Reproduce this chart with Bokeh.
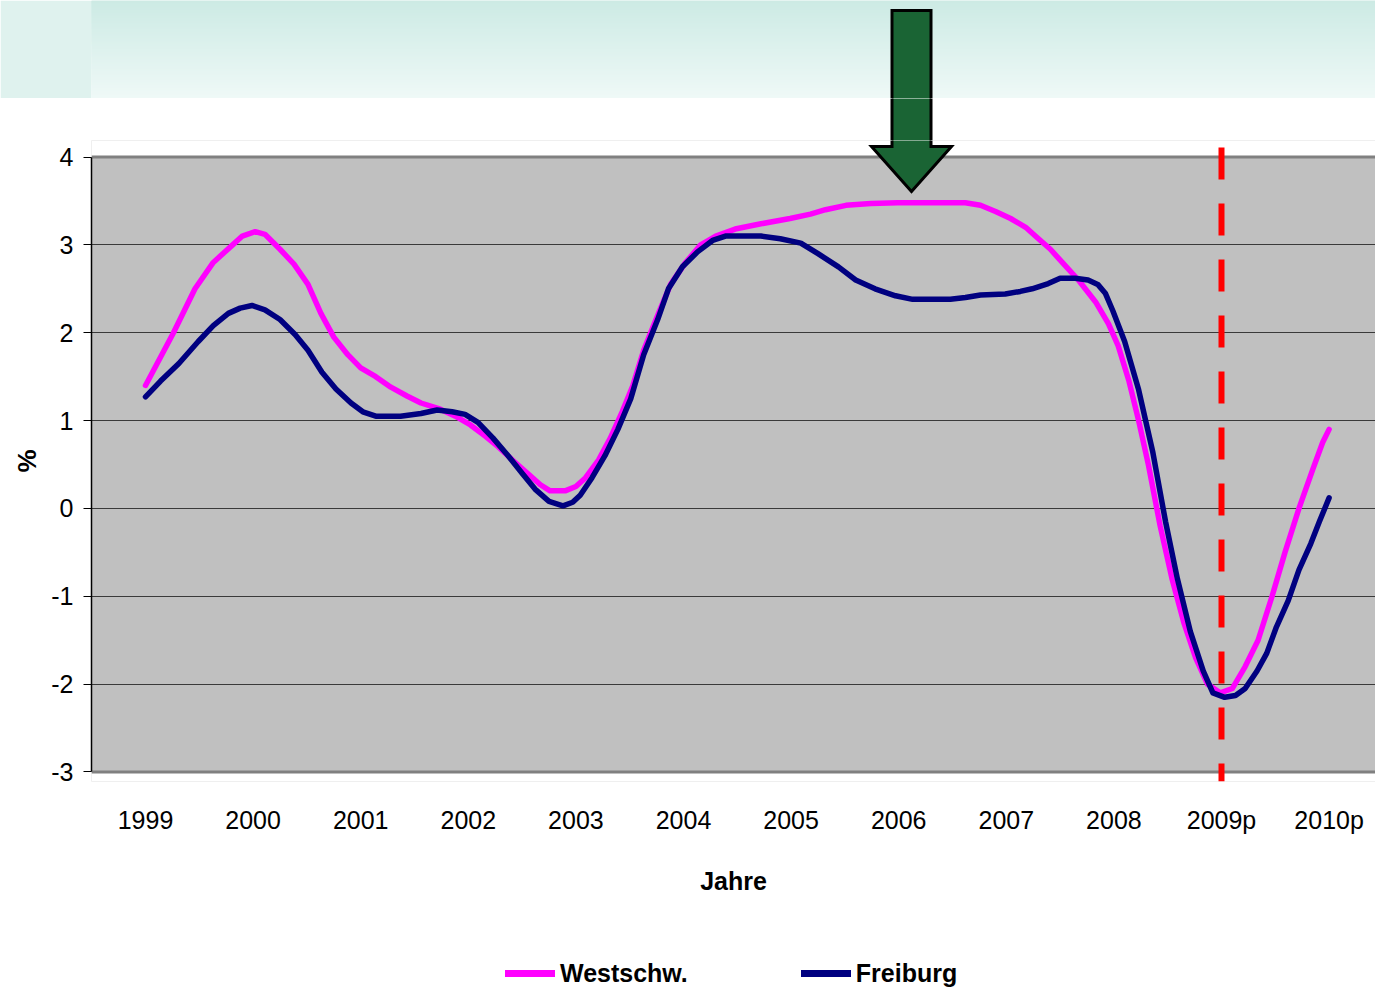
from bokeh.plotting import figure
from bokeh.layouts import column
from bokeh.models import Range1d, FixedTicker, Legend, LegendItem
from bokeh.embed import file_html
from bokeh.resources import INLINE

# ---------------- data ----------------
years = [1999, 2000, 2001, 2002, 2003, 2004, 2005, 2006, 2007, 2008, 2009, 2010]
year_labels = ["1999", "2000", "2001", "2002", "2003", "2004", "2005", "2006",
               "2007", "2008", "2009p", "2010p"]
y_ticks = [-3, -2, -1, 0, 1, 2, 3, 4]
series_names = ["Westschw.", "Freiburg"]

west_t = [1999.00, 1999.26, 1999.46, 1999.63, 1999.81, 1999.90, 2000.02, 2000.11,
          2000.25, 2000.38, 2000.51, 2000.63, 2000.75, 2000.88, 2001.00, 2001.14,
          2001.28, 2001.43, 2001.56, 2001.74, 2001.88, 2002.02, 2002.16, 2002.28,
          2002.41, 2002.55, 2002.67, 2002.76, 2002.90, 2003.00, 2003.09, 2003.21,
          2003.32, 2003.43, 2003.53, 2003.63, 2003.76, 2003.88, 2004.02, 2004.16,
          2004.30, 2004.48, 2004.72, 2004.99, 2005.18, 2005.32, 2005.51, 2005.74,
          2005.99, 2006.30, 2006.62, 2006.76, 2006.90, 2007.04, 2007.18, 2007.27,
          2007.41, 2007.52, 2007.67, 2007.83, 2007.95, 2008.04, 2008.14, 2008.23,
          2008.32, 2008.43, 2008.54, 2008.65, 2008.76, 2008.87, 2008.99, 2009.10,
          2009.22, 2009.34, 2009.47, 2009.59, 2009.72, 2009.85, 2009.94, 2010.00]
west_v = [1.40, 2.00, 2.50, 2.80, 3.00, 3.10, 3.15, 3.12,
          2.95, 2.78, 2.55, 2.22, 1.95, 1.75, 1.60, 1.50,
          1.38, 1.28, 1.20, 1.13, 1.05, 0.95, 0.82, 0.70,
          0.55, 0.40, 0.27, 0.20, 0.20, 0.25, 0.35, 0.55,
          0.80, 1.10, 1.40, 1.80, 2.20, 2.55, 2.80, 3.00,
          3.10, 3.18, 3.24, 3.30, 3.35, 3.40, 3.45, 3.47,
          3.48, 3.48, 3.48, 3.45, 3.38, 3.30, 3.20, 3.10,
          2.95, 2.80, 2.60, 2.35, 2.10, 1.85, 1.45, 1.00,
          0.50, -0.20, -0.80, -1.30, -1.70, -2.00, -2.10, -2.05,
          -1.80, -1.50, -1.00, -0.50, 0.00, 0.45, 0.75, 0.90]

frei_t = [1999.00, 1999.14, 1999.31, 1999.49, 1999.63, 1999.77, 1999.88, 1999.99,
          2000.11, 2000.25, 2000.39, 2000.51, 2000.64, 2000.77, 2000.91, 2001.02,
          2001.14, 2001.37, 2001.56, 2001.71, 2001.85, 2001.97, 2002.09, 2002.23,
          2002.37, 2002.50, 2002.62, 2002.75, 2002.88, 2002.97, 2003.04, 2003.15,
          2003.27, 2003.39, 2003.51, 2003.63, 2003.76, 2003.86, 2003.99, 2004.13,
          2004.27, 2004.39, 2004.72, 2004.90, 2005.09, 2005.25, 2005.44, 2005.60,
          2005.78, 2005.97, 2006.13, 2006.48, 2006.62, 2006.76, 2006.99, 2007.13,
          2007.24, 2007.39, 2007.50, 2007.64, 2007.76, 2007.85, 2007.92, 2007.99,
          2008.10, 2008.23, 2008.36, 2008.48, 2008.59, 2008.71, 2008.83, 2008.92,
          2009.03, 2009.13, 2009.22, 2009.33, 2009.42, 2009.51, 2009.62, 2009.72,
          2009.83, 2009.91, 2010.00]
frei_v = [1.27, 1.45, 1.65, 1.90, 2.08, 2.22, 2.28, 2.31,
          2.26, 2.15, 1.98, 1.80, 1.55, 1.36, 1.20, 1.10,
          1.05, 1.05, 1.08, 1.12, 1.10, 1.07, 0.98, 0.80,
          0.60, 0.40, 0.22, 0.08, 0.03, 0.07, 0.15, 0.35,
          0.60, 0.90, 1.25, 1.75, 2.15, 2.50, 2.75, 2.92,
          3.05, 3.10, 3.10, 3.07, 3.02, 2.90, 2.75, 2.60,
          2.50, 2.42, 2.38, 2.38, 2.40, 2.43, 2.44, 2.47,
          2.50, 2.56, 2.62, 2.62, 2.60, 2.55, 2.45, 2.25,
          1.90, 1.35, 0.65, -0.15, -0.80, -1.40, -1.85, -2.10,
          -2.15, -2.13, -2.05, -1.85, -1.65, -1.35, -1.05, -0.70,
          -0.40, -0.15, 0.12]

marker_year = 2009  # red dashed line at 2009p

# ---------------- geometry helpers (page pixels -> data) ----------------
def px2x(px):
    return 1999 + (px - 145.0) / 107.6

def py2y(py):
    return 4 + (156.5 - py) / 87.857

FONT = "Liberation Sans"
FS = "25px"
W = 1375
LEFT = 91
XR = Range1d(px2x(LEFT), px2x(W))

arrow_px = [(891.5, 10), (930.5, 10), (930.5, 146), (951, 146), (911, 191), (871, 146), (891.5, 146)]
arrow_x = [px2x(a) for a, b in arrow_px]
arrow_y = [py2y(b) for a, b in arrow_px]
ARROW = dict(fill_color="#1a6434", line_color="black", line_width=3, line_join="miter")


def strip_fig(y0, y1, border):
    f = figure(width=W, height=y1 - y0, x_range=XR, y_range=Range1d(py2y(y1), py2y(y0)),
               x_axis_type=None, y_axis_type=None, output_backend="svg", toolbar_location=None,
               min_border_left=LEFT, min_border_right=0, min_border_top=0, min_border_bottom=0)
    f.outline_line_color = None
    f.background_fill_color = "white"
    f.border_fill_color = border
    return f


def band_color(py):
    c0 = (204, 234, 228)
    c1 = (239, 249, 247)
    f = min(max(py / 98.0, 0), 1)
    return "#%02x%02x%02x" % tuple(int(round(c0[k] + (c1[k] - c0[k]) * f)) for k in range(3))


# ---------------- gradient band (page 0..98) ----------------
band = strip_fig(0, 98, band_color(52))
bl, bt, bc = [], [], []
for a in range(0, 98):
    lo = a - 3 if a == 0 else a
    hi = a + 4 if a == 97 else a + 1
    bl.append(py2y(hi)); bt.append(py2y(lo)); bc.append(band_color(a + 0.5))
band.quad(left=px2x(LEFT - 3), right=px2x(W + 3), bottom=bl, top=bt,
          fill_color=bc, line_color=bc, line_width=1)
band.patch(arrow_x, arrow_y, **ARROW)

# ---------------- white gap (page 98..140) ----------------
gap = strip_fig(98, 140, "white")
gap.patch(arrow_x, arrow_y, **ARROW)

# ---------------- main figure (page 140..905) ----------------
TOP, FBOT, BOT = 140, 781, 905
p = figure(width=W, height=BOT - TOP, x_range=XR, y_range=Range1d(py2y(FBOT), py2y(TOP)),
           output_backend="svg", toolbar_location=None,
           min_border_left=LEFT, min_border_right=0, min_border_top=0,
           min_border_bottom=BOT - FBOT)
p.outline_line_color = None
p.background_fill_color = "#c0c0c0"
p.border_fill_color = "white"

p.quad(left=px2x(LEFT - 5), right=px2x(W + 5), bottom=4, top=py2y(TOP - 5),
       fill_color="white", line_color=None)
p.quad(left=px2x(LEFT - 5), right=px2x(W + 5), bottom=py2y(FBOT + 5), top=-3,
       fill_color="white", line_color=None)
p.segment(x0=[px2x(LEFT), px2x(LEFT)], x1=[px2x(W + 5), px2x(W + 5)], y0=[4, -3], y1=[4, -3],
          line_color="#808080", line_width=3)

LINE_W = dict(line_color="#ff00ff", line_width=5.5, line_join="round", line_cap="round")
LINE_F = dict(line_color="#000080", line_width=5.5, line_join="round", line_cap="round")
p.line(west_t, west_v, **LINE_W)
p.line(frei_t, frei_v, **LINE_F)

p.line([marker_year, marker_year], [py2y(147), py2y(FBOT)], line_color="#ff0000", line_width=6,
       line_dash="32 24")

p.patch(arrow_x, arrow_y, **ARROW)

p.xgrid.visible = False
p.ygrid.grid_line_color = "#3a3a3a"
p.ygrid.grid_line_width = 1.2

p.yaxis.ticker = FixedTicker(ticks=y_ticks)
p.yaxis.bounds = (-3, 4)
p.yaxis.major_label_overrides = {t: str(t) for t in y_ticks}
p.yaxis.major_tick_in = 0
p.yaxis.major_tick_out = 8
p.yaxis.minor_tick_line_color = None
p.yaxis.axis_line_color = "black"
p.yaxis.axis_line_width = 1.5
p.yaxis.major_tick_line_color = "black"
p.yaxis.major_label_text_font = FONT
p.yaxis.major_label_text_font_size = FS
p.yaxis.major_label_text_color = "black"
p.yaxis.major_label_standoff = 10
p.yaxis.axis_label = "%"
p.yaxis.axis_label_text_font = FONT
p.yaxis.axis_label_text_font_style = "bold"
p.yaxis.axis_label_text_font_size = "26px"
p.yaxis.axis_label_text_color = "black"
p.yaxis.axis_label_standoff = 6

p.xaxis.ticker = FixedTicker(ticks=years)
p.xaxis.major_label_overrides = {y: l for y, l in zip(years, year_labels)}
p.xaxis.axis_line_color = None
p.xaxis.major_tick_line_color = None
p.xaxis.minor_tick_line_color = None
p.xaxis.major_tick_in = 0
p.xaxis.major_tick_out = 0
p.xaxis.major_label_text_font = FONT
p.xaxis.major_label_text_font_size = FS
p.xaxis.major_label_text_color = "black"
p.xaxis.major_label_standoff = 24
p.xaxis.axis_label = "Jahre"
p.xaxis.axis_label_text_font = FONT
p.xaxis.axis_label_text_font_style = "bold"
p.xaxis.axis_label_text_font_size = FS
p.xaxis.axis_label_text_color = "black"
p.xaxis.axis_label_standoff = 30

# ---------------- legend strip (page 905..992) ----------------
# the series are redrawn here only to supply legend swatches; their values lie
# outside this strip's visible range, so nothing but the legend shows.
leg = strip_fig(BOT, 992, "white")
lw = leg.line(west_t, west_v, **dict(LINE_W, line_width=7))
lf = leg.line(frei_t, frei_v, **dict(LINE_F, line_width=7))
legend = Legend(items=[LegendItem(label=series_names[0], renderers=[lw]),
                       LegendItem(label=series_names[1], renderers=[lf])],
                location=(505 - LEFT, 4), orientation="horizontal",
                padding=0, margin=0, spacing=113, label_standoff=5,
                glyph_width=50, glyph_height=30, label_height=30,
                border_line_color=None, background_fill_alpha=0,
                label_text_font=FONT, label_text_font_style="bold",
                label_text_font_size=FS, label_text_color="black")
leg.add_layout(legend)

layout = column(band, gap, p, leg, spacing=0)

open("out.html", "w").write(file_html(layout, INLINE))
